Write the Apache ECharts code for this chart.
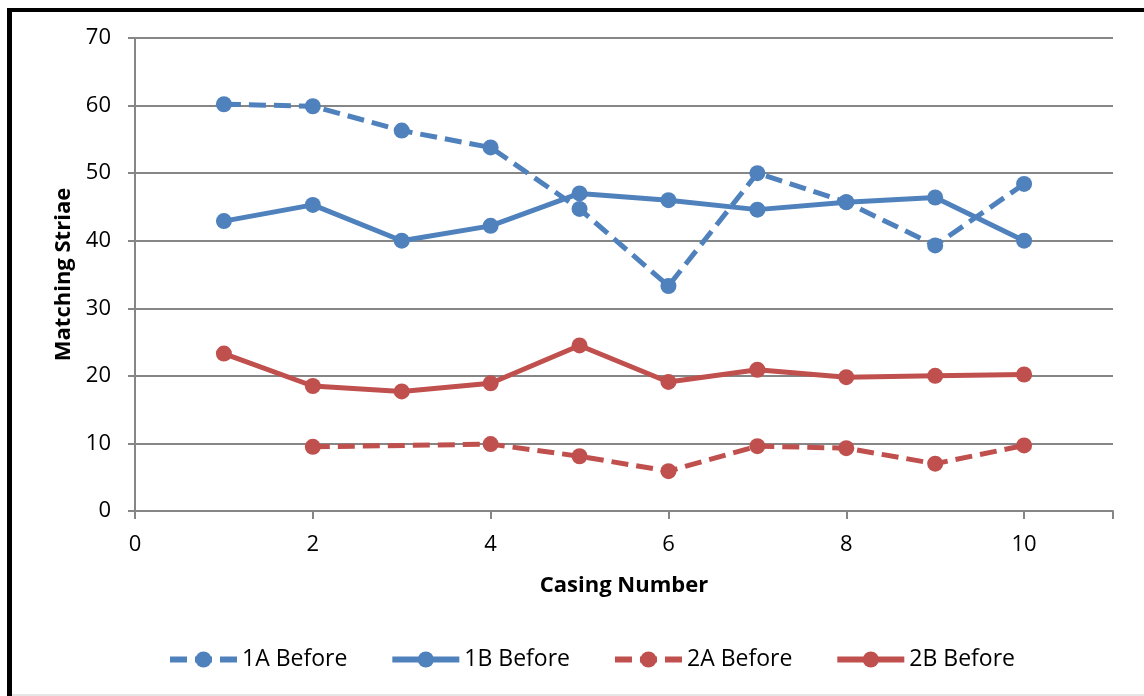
<!DOCTYPE html>
<html>
<head>
<meta charset="utf-8">
<script src="https://cdn.jsdelivr.net/npm/echarts@6/dist/echarts.min.js"></script>
<style>
  html, body { margin: 0; padding: 0; background: #fff; }
  #chart { width: 1144px; height: 696px; }
</style>
</head>
<body>
<div id="chart"></div>
<script>
// Casing numbers along the x axis
const casing = [1, 2, 3, 4, 5, 6, 7, 8, 9, 10];
// Matching striae counts per casing (null = no measurement)
const before1A = [60.2, 59.9, 56.3, 53.8, 44.7, 33.3, 50.0, 45.7, 39.3, 48.4];
const before1B = [42.9, 45.3, 40.0, 42.2, 47.0, 46.0, 44.6, 45.7, 46.4, 40.0];
const before2A = [null, 9.5, null, 9.9, 8.1, 5.9, 9.6, 9.3, 7.0, 9.7];
const before2B = [23.3, 18.5, 17.7, 18.9, 24.5, 19.1, 20.9, 19.8, 20.0, 20.2];
const seriesNames = ['1A Before', '1B Before', '2A Before', '2B Before'];

const BLUE = '#4F81BD';
const RED = '#C0504D';
const FONT = '"Open Sans", sans-serif';
const DASH = [17, 8];

function pairs(values) {
  const out = [];
  values.forEach((v, i) => { if (v !== null) out.push([casing[i], v]); });
  return out;
}

function lineSeries(name, values, color, dashed) {
  return {
    name: name,
    type: 'line',
    data: pairs(values),
    symbol: 'circle',
    symbolSize: 16,
    showSymbol: true,
    connectNulls: true,
    itemStyle: { color: color },
    lineStyle: {
      color: color,
      width: 5,
      type: dashed ? DASH : 'solid',
      join: 'round'
    },
    emphasis: { disabled: true },
    animation: false
  };
}

const chart = echarts.init(document.getElementById('chart'), null, { renderer: 'canvas' });

chart.setOption({
  backgroundColor: '#fff',
  animation: false,
  grid: { left: 135, right: 31, top: 38, bottom: 185, containLabel: false },
  xAxis: {
    type: 'value',
    min: 0,
    max: 11,
    interval: 2,
    name: 'Casing Number',
    nameLocation: 'middle',
    nameGap: 64,
    nameTextStyle: { fontFamily: FONT, fontSize: 22, fontWeight: 'bold', color: '#000' },
    axisLine: { show: true, lineStyle: { color: '#868686', width: 2 } },
    axisTick: { show: true, length: 8, lineStyle: { color: '#868686', width: 2 } },
    axisLabel: {
      fontFamily: FONT, fontSize: 22, color: '#000', margin: 23,
      formatter: v => (v > 10 ? '' : String(v))
    },
    splitLine: { show: false }
  },
  yAxis: {
    type: 'value',
    min: 0,
    max: 70,
    interval: 10,
    name: 'Matching Striae',
    nameLocation: 'middle',
    nameGap: 58,
    nameRotate: 90,
    nameTextStyle: { fontFamily: FONT, fontSize: 22, fontWeight: 'bold', color: '#000' },
    axisLine: { show: true, lineStyle: { color: '#868686', width: 2 } },
    axisTick: { show: true, inside: false, length: 7, lineStyle: { color: '#868686', width: 2 } },
    axisLabel: { fontFamily: FONT, fontSize: 22, color: '#000', margin: 24 },
    splitLine: { show: true, lineStyle: { color: '#868686', width: 2 } }
  },
  legend: {
    data: seriesNames,
    left: 162,
    top: 643,
    itemWidth: 67,
    itemHeight: 20,
    itemGap: 42,
    lineStyle: { width: 6 },
    textStyle: { fontFamily: FONT, fontSize: 23, color: '#000' },
    selectedMode: false
  },
  graphic: [
    // frame edges
    { type: 'rect', shape: { x: 7, y: 8, width: 5, height: 700 }, style: { fill: '#000' }, silent: true },
    { type: 'rect', shape: { x: 7, y: 8, width: 1150, height: 4 }, style: { fill: '#000' }, silent: true },
    { type: 'rect', shape: { x: 12, y: 694, width: 1140, height: 2 }, style: { fill: '#e6e6e6' }, silent: true }
  ],
  series: [
    lineSeries(seriesNames[0], before1A, BLUE, true),
    lineSeries(seriesNames[1], before1B, BLUE, false),
    lineSeries(seriesNames[2], before2A, RED, true),
    lineSeries(seriesNames[3], before2B, RED, false)
  ]
});
</script>
</body>
</html>
